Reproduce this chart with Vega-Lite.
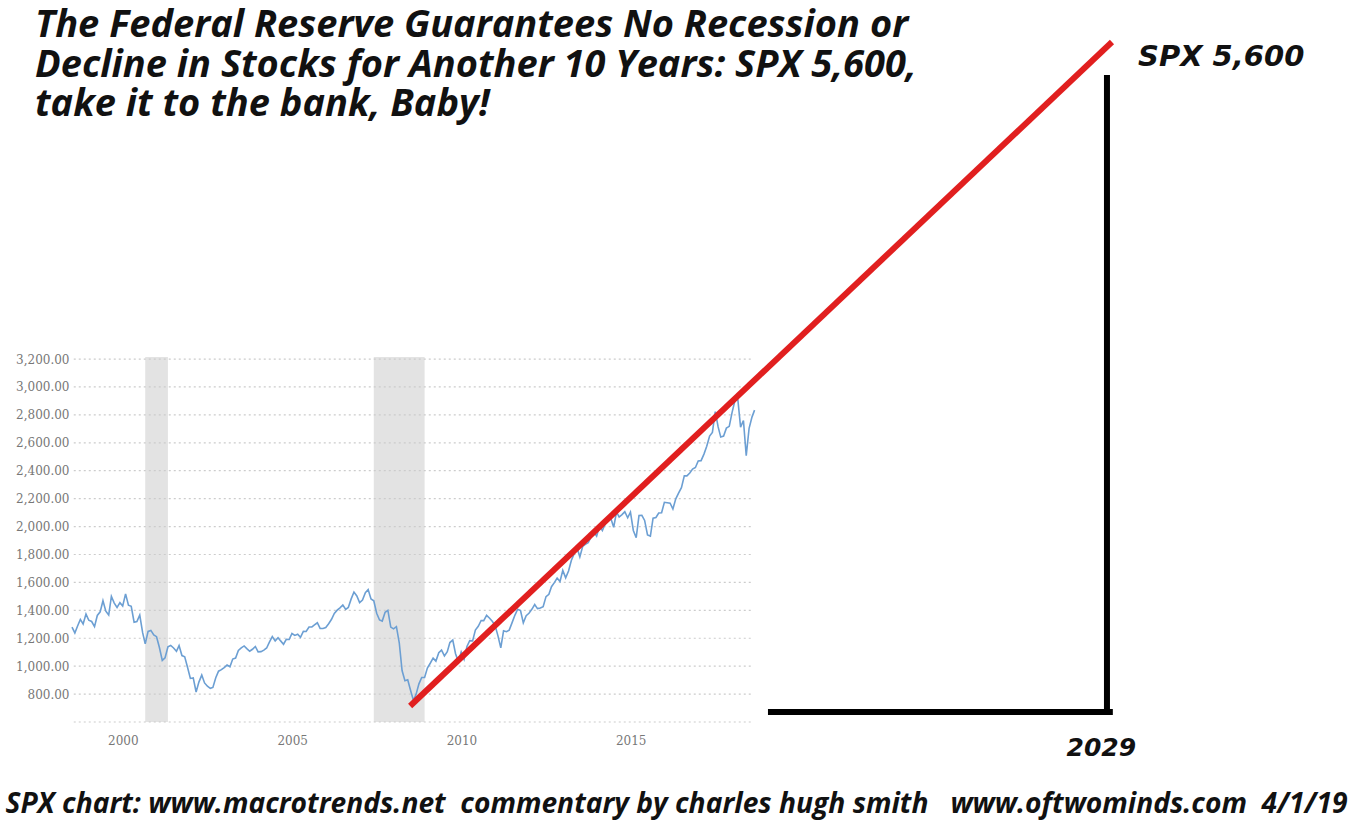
{
  "$schema": "https://vega.github.io/schema/vega-lite/v6.json",
  "autosize": {"type": "none"},
  "padding": {"left": 72, "top": 24, "right": 0, "bottom": 99},
  "width": 1278,
  "height": 698,
  "background": "white",
  "config": {"view": {"stroke": null}},
  "title": {
    "text": ["The Federal Reserve Guarantees No Recession or", "Decline in Stocks for Another 10 Years: SPX 5,600,", "take it to the bank, Baby!"],
    "anchor": "start",
    "frame": "group",
    "offset": 18,
    "dx": -37,
    "dy": 118,
    "font": "Open Sans, Lato, Liberation Sans, sans-serif",
    "fontSize": 38,
    "fontWeight": "bold",
    "fontStyle": "italic",
    "color": "#111111",
    "lineHeight": 39.5
  },
  "datasets": {
    "spx": [
      {"d":"1999-01","v":1280},{"d":"1999-02","v":1238},{"d":"1999-03","v":1286},{"d":"1999-04","v":1335},{"d":"1999-05","v":1302},{"d":"1999-06","v":1373},{"d":"1999-07","v":1329},{"d":"1999-08","v":1320},{"d":"1999-09","v":1283},{"d":"1999-10","v":1363},{"d":"1999-11","v":1389},{"d":"1999-12","v":1469},
      {"d":"2000-01","v":1394},{"d":"2000-02","v":1366},{"d":"2000-03","v":1499},{"d":"2000-04","v":1452},{"d":"2000-05","v":1421},{"d":"2000-06","v":1455},{"d":"2000-07","v":1431},{"d":"2000-08","v":1518},{"d":"2000-09","v":1437},{"d":"2000-10","v":1429},{"d":"2000-11","v":1315},{"d":"2000-12","v":1320},
      {"d":"2001-01","v":1366},{"d":"2001-02","v":1240},{"d":"2001-03","v":1160},{"d":"2001-04","v":1249},{"d":"2001-05","v":1256},{"d":"2001-06","v":1224},{"d":"2001-07","v":1211},{"d":"2001-08","v":1134},{"d":"2001-09","v":1041},{"d":"2001-10","v":1060},{"d":"2001-11","v":1139},{"d":"2001-12","v":1148},
      {"d":"2002-01","v":1130},{"d":"2002-02","v":1107},{"d":"2002-03","v":1147},{"d":"2002-04","v":1076},{"d":"2002-05","v":1067},{"d":"2002-06","v":990},{"d":"2002-07","v":912},{"d":"2002-08","v":916},{"d":"2002-09","v":815},{"d":"2002-10","v":886},{"d":"2002-11","v":936},{"d":"2002-12","v":880},
      {"d":"2003-01","v":856},{"d":"2003-02","v":841},{"d":"2003-03","v":848},{"d":"2003-04","v":917},{"d":"2003-05","v":964},{"d":"2003-06","v":975},{"d":"2003-07","v":990},{"d":"2003-08","v":1008},{"d":"2003-09","v":996},{"d":"2003-10","v":1051},{"d":"2003-11","v":1058},{"d":"2003-12","v":1112},
      {"d":"2004-01","v":1131},{"d":"2004-02","v":1145},{"d":"2004-03","v":1126},{"d":"2004-04","v":1107},{"d":"2004-05","v":1121},{"d":"2004-06","v":1141},{"d":"2004-07","v":1102},{"d":"2004-08","v":1104},{"d":"2004-09","v":1115},{"d":"2004-10","v":1130},{"d":"2004-11","v":1174},{"d":"2004-12","v":1212},
      {"d":"2005-01","v":1181},{"d":"2005-02","v":1204},{"d":"2005-03","v":1181},{"d":"2005-04","v":1157},{"d":"2005-05","v":1192},{"d":"2005-06","v":1191},{"d":"2005-07","v":1234},{"d":"2005-08","v":1220},{"d":"2005-09","v":1229},{"d":"2005-10","v":1207},{"d":"2005-11","v":1249},{"d":"2005-12","v":1248},
      {"d":"2006-01","v":1280},{"d":"2006-02","v":1281},{"d":"2006-03","v":1295},{"d":"2006-04","v":1311},{"d":"2006-05","v":1270},{"d":"2006-06","v":1270},{"d":"2006-07","v":1277},{"d":"2006-08","v":1304},{"d":"2006-09","v":1336},{"d":"2006-10","v":1378},{"d":"2006-11","v":1401},{"d":"2006-12","v":1418},
      {"d":"2007-01","v":1438},{"d":"2007-02","v":1407},{"d":"2007-03","v":1421},{"d":"2007-04","v":1482},{"d":"2007-05","v":1531},{"d":"2007-06","v":1503},{"d":"2007-07","v":1455},{"d":"2007-08","v":1474},{"d":"2007-09","v":1527},{"d":"2007-10","v":1549},{"d":"2007-11","v":1481},{"d":"2007-12","v":1468},
      {"d":"2008-01","v":1379},{"d":"2008-02","v":1331},{"d":"2008-03","v":1323},{"d":"2008-04","v":1386},{"d":"2008-05","v":1400},{"d":"2008-06","v":1280},{"d":"2008-07","v":1267},{"d":"2008-08","v":1283},{"d":"2008-09","v":1166},{"d":"2008-10","v":969},{"d":"2008-11","v":896},{"d":"2008-12","v":903},
      {"d":"2009-01","v":826},{"d":"2009-02","v":755},{"d":"2009-03","v":798},{"d":"2009-04","v":873},{"d":"2009-05","v":919},{"d":"2009-06","v":919},{"d":"2009-07","v":987},{"d":"2009-08","v":1021},{"d":"2009-09","v":1057},{"d":"2009-10","v":1036},{"d":"2009-11","v":1096},{"d":"2009-12","v":1115},
      {"d":"2010-01","v":1074},{"d":"2010-02","v":1104},{"d":"2010-03","v":1169},{"d":"2010-04","v":1187},{"d":"2010-05","v":1089},{"d":"2010-06","v":1031},{"d":"2010-07","v":1102},{"d":"2010-08","v":1049},{"d":"2010-09","v":1141},{"d":"2010-10","v":1183},{"d":"2010-11","v":1181},{"d":"2010-12","v":1258},
      {"d":"2011-01","v":1286},{"d":"2011-02","v":1327},{"d":"2011-03","v":1326},{"d":"2011-04","v":1364},{"d":"2011-05","v":1345},{"d":"2011-06","v":1321},{"d":"2011-07","v":1292},{"d":"2011-08","v":1219},{"d":"2011-09","v":1131},{"d":"2011-10","v":1253},{"d":"2011-11","v":1247},{"d":"2011-12","v":1258},
      {"d":"2012-01","v":1312},{"d":"2012-02","v":1366},{"d":"2012-03","v":1408},{"d":"2012-04","v":1398},{"d":"2012-05","v":1310},{"d":"2012-06","v":1362},{"d":"2012-07","v":1379},{"d":"2012-08","v":1407},{"d":"2012-09","v":1441},{"d":"2012-10","v":1412},{"d":"2012-11","v":1416},{"d":"2012-12","v":1426},
      {"d":"2013-01","v":1498},{"d":"2013-02","v":1515},{"d":"2013-03","v":1569},{"d":"2013-04","v":1598},{"d":"2013-05","v":1631},{"d":"2013-06","v":1606},{"d":"2013-07","v":1686},{"d":"2013-08","v":1633},{"d":"2013-09","v":1682},{"d":"2013-10","v":1757},{"d":"2013-11","v":1806},{"d":"2013-12","v":1848},
      {"d":"2014-01","v":1783},{"d":"2014-02","v":1859},{"d":"2014-03","v":1872},{"d":"2014-04","v":1884},{"d":"2014-05","v":1924},{"d":"2014-06","v":1960},{"d":"2014-07","v":1931},{"d":"2014-08","v":2003},{"d":"2014-09","v":1972},{"d":"2014-10","v":2018},{"d":"2014-11","v":2068},{"d":"2014-12","v":2059},
      {"d":"2015-01","v":1995},{"d":"2015-02","v":2105},{"d":"2015-03","v":2068},{"d":"2015-04","v":2086},{"d":"2015-05","v":2107},{"d":"2015-06","v":2063},{"d":"2015-07","v":2104},{"d":"2015-08","v":1972},{"d":"2015-09","v":1920},{"d":"2015-10","v":2079},{"d":"2015-11","v":2080},{"d":"2015-12","v":2044},
      {"d":"2016-01","v":1940},{"d":"2016-02","v":1932},{"d":"2016-03","v":2060},{"d":"2016-04","v":2065},{"d":"2016-05","v":2097},{"d":"2016-06","v":2099},{"d":"2016-07","v":2174},{"d":"2016-08","v":2171},{"d":"2016-09","v":2168},{"d":"2016-10","v":2126},{"d":"2016-11","v":2199},{"d":"2016-12","v":2239},
      {"d":"2017-01","v":2279},{"d":"2017-02","v":2364},{"d":"2017-03","v":2363},{"d":"2017-04","v":2384},{"d":"2017-05","v":2412},{"d":"2017-06","v":2423},{"d":"2017-07","v":2470},{"d":"2017-08","v":2472},{"d":"2017-09","v":2519},{"d":"2017-10","v":2575},{"d":"2017-11","v":2648},{"d":"2017-12","v":2674},
      {"d":"2018-01","v":2824},{"d":"2018-02","v":2714},{"d":"2018-03","v":2641},{"d":"2018-04","v":2648},{"d":"2018-05","v":2705},{"d":"2018-06","v":2718},{"d":"2018-07","v":2816},{"d":"2018-08","v":2902},{"d":"2018-09","v":2914},{"d":"2018-10","v":2712},{"d":"2018-11","v":2760},{"d":"2018-12","v":2507},
      {"d":"2019-01","v":2704},{"d":"2019-02","v":2784},{"d":"2019-03","v":2834}
    ],
    "recessions": [
      {"d":"2001-03-01","d2":"2001-11-01","v":600,"v2":3215},
      {"d":"2007-12-01","d2":"2009-06-01","v":600,"v2":3215}
    ],
    "grid": [
      {"v":600,"d":"1999-01-20","d2":"2019-01-20"},{"v":800,"d":"1999-01-20","d2":"2019-01-20"},{"v":1000,"d":"1999-01-20","d2":"2019-01-20"},{"v":1200,"d":"1999-01-20","d2":"2019-01-20"},{"v":1400,"d":"1999-01-20","d2":"2019-01-20"},{"v":1600,"d":"1999-01-20","d2":"2019-01-20"},{"v":1800,"d":"1999-01-20","d2":"2019-01-20"},{"v":2000,"d":"1999-01-20","d2":"2019-01-20"},{"v":2200,"d":"1999-01-20","d2":"2019-01-20"},{"v":2400,"d":"1999-01-20","d2":"2019-01-20"},{"v":2600,"d":"1999-01-20","d2":"2019-01-20"},{"v":2800,"d":"1999-01-20","d2":"2019-01-20"},{"v":3000,"d":"1999-01-20","d2":"2019-01-20"},{"v":3200,"d":"1999-01-20","d2":"2019-01-20"}
    ],
    "projection": [
      {"d":"2008-12-27","v":715},
      {"d":"2029-09-20","v":5471}
    ],
    "baseLine": [{"d":"2019-08-25","d2":"2029-08-28","v":672}],
    "sideLine": [{"d":"2029-07-28","v":5213,"v2":672}],
    "yearLabel": [{"d":"2029-05-28","v":414,"label":"2029"}],
    "targetLabel": [{"d":"2030-06-28","v":5363,"label":"SPX 5,600"}]
  },
  "encoding": {
    "x": {
      "field": "d",
      "type": "temporal",
      "scale": {"type": "utc", "domain": [{"year":1999,"month":1,"date":1,"utc":true},{"year":2036,"month":10,"date":1,"utc":true}]},
      "axis": {
        "values": [{"year":2000,"utc":true},{"year":2005,"utc":true},{"year":2010,"utc":true},{"year":2015,"utc":true}],
        "format": "%Y",
        "labelOffset": 17,
        "labelPadding": 13,
        "domain": false,
        "ticks": false,
        "grid": false,
        "labelFont": "DejaVu Serif",
        "labelFontSize": 12,
        "labelColor": "#777777",
        "title": "SPX chart: www.macrotrends.net\u00a0 commentary by charles hugh smith\u00a0\u00a0 www.oftwominds.com\u00a0 4/1/19",
        "titleFont": "Open Sans, Lato, Liberation Sans, sans-serif",
        "titleFontSize": 28.2,
        "titleFontWeight": "bold",
        "titleFontStyle": "italic",
        "titleColor": "#111111",
        "titleAnchor": "start",
        "titleAlign": "left",
        "titleBaseline": "alphabetic",
        "titleX": -67,
        "titleY": 90
      }
    },
    "y": {
      "field": "v",
      "type": "quantitative",
      "scale": {"domain": [600, 5600], "nice": false, "zero": false},
      "axis": {
        "values": [800,1000,1200,1400,1600,1800,2000,2200,2400,2600,2800,3000,3200],
        "format": ",.2f",
        "domain": false,
        "ticks": false,
        "grid": false,
        "labelPadding": 3,
        "labelFont": "DejaVu Serif",
        "labelFontSize": 12,
        "labelColor": "#777777",
        "title": null
      }
    }
  },
  "layer": [
    {
      "data": {"name": "recessions"},
      "mark": {"type": "rect", "color": "#e3e3e3"},
      "encoding": {
        "x2": {"field": "d2"},
        "y2": {"field": "v2"}
      }
    },
    {
      "data": {"name": "grid"},
      "mark": {"type": "rule", "color": "#cccccc", "strokeWidth": 1.2, "strokeDash": [2, 3]},
      "encoding": {
        "x2": {"field": "d2"}
      }
    },
    {
      "data": {"name": "spx"},
      "mark": {"type": "line", "color": "#6c9fd3", "strokeWidth": 1.6}
    },
    {
      "data": {"name": "projection"},
      "mark": {"type": "line", "color": "#e11f1f", "strokeWidth": 6}
    },
    {
      "data": {"name": "baseLine"},
      "mark": {"type": "rule", "color": "#000000", "strokeWidth": 6, "strokeCap": "square"},
      "encoding": {"x2": {"field": "d2"}}
    },
    {
      "data": {"name": "sideLine"},
      "mark": {"type": "rule", "color": "#000000", "strokeWidth": 6, "strokeCap": "square"},
      "encoding": {"y2": {"field": "v2"}}
    },
    {
      "data": {"name": "yearLabel"},
      "mark": {"type": "text", "font": "DejaVu Sans", "fontSize": 25, "fontWeight": "bold", "fontStyle": "italic", "color": "#111111", "align": "center", "baseline": "middle"},
      "encoding": {"text": {"field": "label"}}
    },
    {
      "data": {"name": "targetLabel"},
      "mark": {"type": "text", "font": "DejaVu Sans", "fontSize": 29, "fontWeight": "bold", "fontStyle": "italic", "color": "#111111", "align": "left", "baseline": "middle"},
      "encoding": {"text": {"field": "label"}}
    }
  ]
}
